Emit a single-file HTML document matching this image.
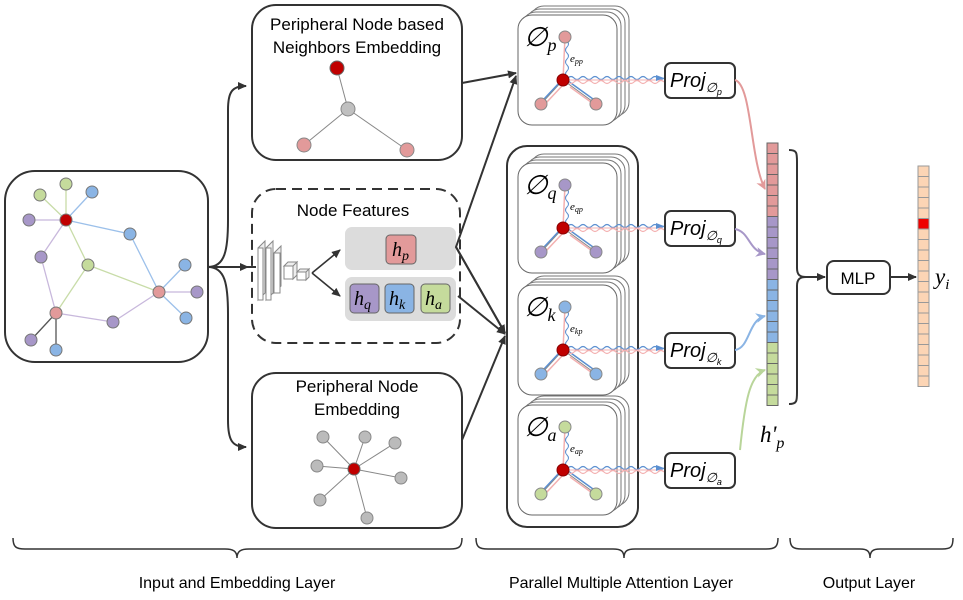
<!DOCTYPE html>
<html><head><meta charset="utf-8"><style>
html,body{margin:0;padding:0;background:#fff}
svg{display:block}
text{font-family:"Liberation Sans",sans-serif}
.m{font-family:"Liberation Serif",serif;font-style:italic}
</style></head><body>
<svg width="963" height="600" viewBox="0 0 963 600" xmlns="http://www.w3.org/2000/svg">
<defs>
<marker id="ar" markerWidth="10" markerHeight="10" refX="8" refY="5" orient="auto" markerUnits="userSpaceOnUse"><path d="M0,1 L9,5 L0,9 z" fill="#333"/></marker>
<marker id="arp" markerWidth="12" markerHeight="12" refX="9" refY="6" orient="auto" markerUnits="userSpaceOnUse"><path d="M0,1 L10,6 L0,11 L3,6z" fill="#e29a9a"/></marker>
<marker id="arv" markerWidth="12" markerHeight="12" refX="9" refY="6" orient="auto" markerUnits="userSpaceOnUse"><path d="M0,1 L10,6 L0,11 L3,6z" fill="#a797c8"/></marker>
<marker id="arb" markerWidth="12" markerHeight="12" refX="9" refY="6" orient="auto" markerUnits="userSpaceOnUse"><path d="M0,1 L10,6 L0,11 L3,6z" fill="#8ab4e4"/></marker>
<marker id="arg" markerWidth="12" markerHeight="12" refX="9" refY="6" orient="auto" markerUnits="userSpaceOnUse"><path d="M0,1 L10,6 L0,11 L3,6z" fill="#b9d59a"/></marker>
<g id="cards">
 <rect x="12" y="-9" width="99" height="110" rx="14" fill="#fff" stroke="#777"/>
 <rect x="8" y="-6" width="99" height="110" rx="14" fill="#fff" stroke="#777"/>
 <rect x="4" y="-3" width="99" height="110" rx="14" fill="#fff" stroke="#777"/>
 <rect x="0" y="0" width="99" height="110" rx="14" fill="#fff" stroke="#666"/>
</g>
<g id="cell">
 <line x1="47" y1="22" x2="45" y2="65" stroke="#f3b0b0" stroke-width="1.5"/>
 <path d="M49,26 q3,3 0,6 t0,6 t0,6 t0,6 t0,6 t0,6" fill="none" stroke="#5b8fd0" stroke-width="1"/>
 <line x1="23" y1="89" x2="45" y2="65" stroke="#888" stroke-width="1"/>
 <line x1="78" y1="89" x2="45" y2="65" stroke="#888" stroke-width="1"/>
 <path d="M26,84 l16,-17" stroke="#5b8fd0" stroke-width="1.5"/>
 <path d="M28,88 l16,-17" stroke="#f3b0b0" stroke-width="1.5"/>
 <path d="M75,84 l-25,-18" stroke="#5b8fd0" stroke-width="1.5"/>
 <path d="M77,90 l-25,-18" stroke="#f3b0b0" stroke-width="1.5"/>
 <path d="M50,63 q3,-3 6,0 t6,0 t6,0 t6,0 t6,0 t6,0 t6,0 t6,0 t6,0 t6,0 t6,0 t6,0 t6,0 t6,0 t6,0 t6,0" fill="none" stroke="#5b8fd0" stroke-width="1.2"/>
 <path d="M50,67 q3,3 6,0 t6,0 t6,0 t6,0 t6,0 t6,0 t6,0 t6,0 t6,0 t6,0 t6,0 t6,0 t6,0 t6,0 t6,0 t6,0" fill="none" stroke="#f3b0b0" stroke-width="1.2"/>
 <line x1="50" y1="65" x2="144" y2="65" stroke="#f3b0b0" stroke-width="1"/>
 <path d="M138,60 l8,3 l-8,3z" fill="#5b8fd0"/>
 <circle cx="47" cy="22" r="6" fill="currentColor" stroke="#888"/>
 <circle cx="23" cy="89" r="6" fill="currentColor" stroke="#888"/>
 <circle cx="78" cy="89" r="6" fill="currentColor" stroke="#888"/>
 <circle cx="45" cy="65" r="6" fill="#c00000" stroke="#800"/>
</g>
</defs>

<rect x="5" y="171" width="203" height="191" rx="30" fill="#fff" stroke="#333" stroke-width="2"/>
<g stroke-width="1.3">
<line x1="66" y1="220" x2="40" y2="195" stroke="#c8dca8"/>
<line x1="66" y1="220" x2="66" y2="184" stroke="#c8dca8"/>
<line x1="66" y1="220" x2="92" y2="192" stroke="#9cc0ea"/>
<line x1="66" y1="220" x2="29" y2="220" stroke="#c8b8dc"/>
<line x1="66" y1="220" x2="41" y2="257" stroke="#c8b8dc"/>
<line x1="66" y1="220" x2="88" y2="265" stroke="#c8dca8"/>
<line x1="66" y1="220" x2="130" y2="234" stroke="#9cc0ea"/>
<line x1="130" y1="234" x2="159" y2="292" stroke="#9cc0ea"/>
<line x1="88" y1="265" x2="159" y2="292" stroke="#c8dca8"/>
<line x1="88" y1="265" x2="56" y2="313" stroke="#c8dca8"/>
<line x1="41" y1="257" x2="56" y2="313" stroke="#c8b8dc"/>
<line x1="159" y1="292" x2="185" y2="265" stroke="#9cc0ea"/>
<line x1="159" y1="292" x2="197" y2="292" stroke="#c8b8dc"/>
<line x1="159" y1="292" x2="186" y2="318" stroke="#9cc0ea"/>
<line x1="159" y1="292" x2="113" y2="322" stroke="#c8b8dc"/>
<line x1="56" y1="313" x2="113" y2="322" stroke="#c8b8dc"/>
<line x1="56" y1="313" x2="31" y2="340" stroke="#555"/>
<line x1="56" y1="313" x2="56" y2="350" stroke="#555"/>
</g>
<g stroke="#777" stroke-width="1">
<circle cx="40" cy="195" r="6" fill="#c5db9c"/><circle cx="66" cy="184" r="6" fill="#c5db9c"/>
<circle cx="92" cy="192" r="6" fill="#8ab4e4"/><circle cx="29" cy="220" r="6" fill="#a797c8"/>
<circle cx="41" cy="257" r="6" fill="#a797c8"/><circle cx="88" cy="265" r="6" fill="#c5db9c"/>
<circle cx="130" cy="234" r="6" fill="#8ab4e4"/><circle cx="159" cy="292" r="6" fill="#e29a9a"/>
<circle cx="185" cy="265" r="6" fill="#8ab4e4"/><circle cx="197" cy="292" r="6" fill="#a797c8"/>
<circle cx="186" cy="318" r="6" fill="#8ab4e4"/><circle cx="56" cy="313" r="6" fill="#e29a9a"/>
<circle cx="113" cy="322" r="6" fill="#a797c8"/><circle cx="31" cy="340" r="6" fill="#a797c8"/>
<circle cx="56" cy="350" r="6" fill="#8ab4e4"/><circle cx="66" cy="220" r="6" fill="#c00000"/>
</g>

<g fill="none" stroke="#333" stroke-width="2">
<path d="M208,267 C225,267 228,250 228,220 L228,110 C228,92 232,86 246,86" marker-end="url(#ar)"/>
<path d="M208,267 L248,267" marker-end="url(#ar)"/>
<path d="M208,267 C225,267 228,284 228,314 L228,420 C228,440 232,447 246,447" marker-end="url(#ar)"/>
</g>

<rect x="252" y="5" width="210" height="155" rx="24" fill="#fff" stroke="#333" stroke-width="2"/>
<text x="357" y="30" font-size="17" text-anchor="middle">Peripheral Node based</text>
<text x="357" y="53" font-size="17" text-anchor="middle">Neighbors Embedding</text>
<line x1="337" y1="68" x2="348" y2="109" stroke="#888"/>
<line x1="348" y1="109" x2="304" y2="145" stroke="#888"/>
<line x1="348" y1="109" x2="407" y2="150" stroke="#888"/>
<circle cx="337" cy="68" r="7" fill="#c00000" stroke="#666"/>
<circle cx="348" cy="109" r="7" fill="#c0c0c0" stroke="#888"/>
<circle cx="304" cy="145" r="7" fill="#e29a9a" stroke="#888"/>
<circle cx="407" cy="150" r="7" fill="#e29a9a" stroke="#888"/>

<rect x="252" y="189" width="208" height="154" rx="24" fill="#fff" stroke="#333" stroke-width="2" stroke-dasharray="10,6"/>
<text x="353" y="216" font-size="17" text-anchor="middle">Node Features</text>
<rect x="345" y="227" width="111" height="43" rx="7" fill="#dcdcdc"/>
<rect x="345" y="277" width="111" height="44" rx="7" fill="#dcdcdc"/>
<rect x="386" y="235" width="30" height="29" rx="4" fill="#e29a9a" stroke="#666"/>
<rect x="350" y="284" width="29" height="29" rx="4" fill="#a797c8" stroke="#666"/>
<rect x="385" y="284" width="29" height="29" rx="4" fill="#8ab4e4" stroke="#666"/>
<rect x="421" y="284" width="29" height="29" rx="4" fill="#c5db9c" stroke="#666"/>
<text x="392" y="256" font-size="20" class="m">h<tspan font-size="14" dy="4">p</tspan></text>
<text x="354" y="305" font-size="20" class="m">h<tspan font-size="14" dy="4">q</tspan></text>
<text x="389" y="305" font-size="20" class="m">h<tspan font-size="14" dy="4">k</tspan></text>
<text x="425" y="305" font-size="20" class="m">h<tspan font-size="14" dy="4">a</tspan></text>
<g fill="#fff" stroke="#888">
<path d="M258,248 l7,-7 v52 l-7,7z" fill="#eee"/><rect x="258" y="248" width="5" height="52"/>
<path d="M266,248 l7,-7 v52 l-7,7z" fill="#eee"/><rect x="266" y="248" width="5" height="52"/>
<path d="M274,253 l7,-7 v40 l-7,7z" fill="#eee"/><rect x="274" y="253" width="6" height="40"/>
<rect x="284" y="266" width="9" height="13"/><path d="M284,266 l4,-4 h9 l-4,4z M293,266 l4,-4 v13 l-4,4z" fill="#eee"/>
<rect x="297" y="272" width="9" height="8"/><path d="M297,272 l3,-3 h9 l-3,3z M306,272 l3,-3 v8 l-3,3z" fill="#eee"/>
</g>
<line x1="248" y1="267" x2="256" y2="267" stroke="#333" stroke-width="2"/>
<g stroke="#333" stroke-width="1.6" fill="none">
<line x1="312" y1="273" x2="340" y2="250" marker-end="url(#ar)"/>
<line x1="312" y1="273" x2="340" y2="296" marker-end="url(#ar)"/>
</g>

<rect x="252" y="373" width="210" height="155" rx="24" fill="#fff" stroke="#333" stroke-width="2"/>
<text x="357" y="392" font-size="17" text-anchor="middle">Peripheral Node</text>
<text x="357" y="415" font-size="17" text-anchor="middle">Embedding</text>
<g stroke="#888">
<line x1="354" y1="469" x2="323" y2="437"/><line x1="354" y1="469" x2="365" y2="437"/>
<line x1="354" y1="469" x2="395" y2="443"/><line x1="354" y1="469" x2="317" y2="466"/>
<line x1="354" y1="469" x2="401" y2="478"/><line x1="354" y1="469" x2="320" y2="500"/>
<line x1="354" y1="469" x2="367" y2="518"/>
</g>
<g fill="#bbb" stroke="#888">
<circle cx="323" cy="437" r="6"/><circle cx="365" cy="437" r="6"/><circle cx="395" cy="443" r="6"/>
<circle cx="317" cy="466" r="6"/><circle cx="401" cy="478" r="6"/><circle cx="320" cy="500" r="6"/>
<circle cx="367" cy="518" r="6"/>
</g>
<circle cx="354" cy="469" r="6" fill="#c00000" stroke="#666"/>

<g stroke="#333" stroke-width="2" fill="none">
<line x1="462" y1="83" x2="516" y2="73" marker-end="url(#ar)"/>
<polyline points="505,333 456,247 516,76" marker-end="url(#ar)"/>
<polyline points="456,247 505,333" marker-end="url(#ar)"/>
<line x1="458" y1="296" x2="505" y2="334" marker-end="url(#ar)"/>
<line x1="462" y1="440" x2="505" y2="336" marker-end="url(#ar)"/>
</g>

<rect x="507" y="146" width="131" height="381" rx="20" fill="#fff" stroke="#333" stroke-width="2"/>
<g transform="translate(518,15)"><use href="#cards"/><use href="#cell" style="color:#e29a9a"/><text x="6" y="31" font-size="27" class="m">∅<tspan font-size="18" dy="5">p</tspan></text><text x="52" y="47" font-size="11" class="m">e<tspan font-size="8" dy="2">pp</tspan></text></g>
<g transform="translate(518,163)"><use href="#cards"/><use href="#cell" style="color:#a797c8"/><text x="6" y="31" font-size="27" class="m">∅<tspan font-size="18" dy="5">q</tspan></text><text x="52" y="47" font-size="11" class="m">e<tspan font-size="8" dy="2">qp</tspan></text></g>
<g transform="translate(518,285)"><use href="#cards"/><use href="#cell" style="color:#8ab4e4"/><text x="6" y="31" font-size="27" class="m">∅<tspan font-size="18" dy="5">k</tspan></text><text x="52" y="47" font-size="11" class="m">e<tspan font-size="8" dy="2">kp</tspan></text></g>
<g transform="translate(518,405)"><use href="#cards"/><use href="#cell" style="color:#c5db9c"/><text x="6" y="31" font-size="27" class="m">∅<tspan font-size="18" dy="5">a</tspan></text><text x="52" y="47" font-size="11" class="m">e<tspan font-size="8" dy="2">ap</tspan></text></g>

<g fill="#fff" stroke="#333" stroke-width="2">
<rect x="665" y="63" width="70" height="35" rx="6"/>
<rect x="665" y="211" width="70" height="35" rx="6"/>
<rect x="665" y="333" width="70" height="35" rx="6"/>
<rect x="665" y="453" width="70" height="35" rx="6"/>
</g>
<g font-size="20" class="m">
<text x="670" y="87">Proj<tspan font-size="13" dy="5">∅</tspan><tspan font-size="9" dy="3">p</tspan></text>
<text x="670" y="235">Proj<tspan font-size="13" dy="5">∅</tspan><tspan font-size="9" dy="3">q</tspan></text>
<text x="670" y="357">Proj<tspan font-size="13" dy="5">∅</tspan><tspan font-size="9" dy="3">k</tspan></text>
<text x="670" y="477">Proj<tspan font-size="13" dy="5">∅</tspan><tspan font-size="9" dy="3">a</tspan></text>
</g>
<g fill="none" stroke-width="2">
<path d="M735,80 C752,85 750,160 765,189" stroke="#e29a9a" marker-end="url(#arp)"/>
<path d="M735,229 C750,232 748,250 765,254" stroke="#a797c8" marker-end="url(#arv)"/>
<path d="M735,350 C750,348 748,320 765,316" stroke="#8ab4e4" marker-end="url(#arb)"/>
<path d="M740,450 C745,400 750,375 765,370" stroke="#b9d59a" marker-end="url(#arg)"/>
</g>

<g stroke="#666" stroke-width="1">
<g fill="#e29a9a">
<rect x="767" y="143" width="11" height="10.5"/><rect x="767" y="153.5" width="11" height="10.5"/><rect x="767" y="164" width="11" height="10.5"/><rect x="767" y="174.5" width="11" height="10.5"/><rect x="767" y="185" width="11" height="10.5"/><rect x="767" y="195.5" width="11" height="10.5"/><rect x="767" y="206" width="11" height="10.5"/></g>
<g fill="#a797c8">
<rect x="767" y="216.5" width="11" height="10.5"/><rect x="767" y="227" width="11" height="10.5"/><rect x="767" y="237.5" width="11" height="10.5"/><rect x="767" y="248" width="11" height="10.5"/><rect x="767" y="258.5" width="11" height="10.5"/><rect x="767" y="269" width="11" height="10.5"/></g>
<g fill="#8ab4e4">
<rect x="767" y="279.5" width="11" height="10.5"/><rect x="767" y="290" width="11" height="10.5"/><rect x="767" y="300.5" width="11" height="10.5"/><rect x="767" y="311" width="11" height="10.5"/><rect x="767" y="321.5" width="11" height="10.5"/><rect x="767" y="332" width="11" height="10.5"/></g>
<g fill="#c5db9c">
<rect x="767" y="342.5" width="11" height="10.5"/><rect x="767" y="353" width="11" height="10.5"/><rect x="767" y="363.5" width="11" height="10.5"/><rect x="767" y="374" width="11" height="10.5"/><rect x="767" y="384.5" width="11" height="10.5"/><rect x="767" y="395" width="11" height="10.5"/></g>
</g>
<text x="760" y="442" font-size="23" class="m">h'<tspan font-size="16" dy="6">p</tspan></text>

<path d="M789,150 C797,150 797,153 797,162 L797,268 C797,275 800,277 806,277 C800,277 797,279 797,286 L797,392 C797,401 797,404 789,404" fill="none" stroke="#333" stroke-width="2"/>
<line x1="806" y1="277" x2="825" y2="277" stroke="#333" stroke-width="2" marker-end="url(#ar)"/>
<rect x="827" y="261" width="63" height="33" rx="7" fill="#fff" stroke="#333" stroke-width="2"/>
<text x="858" y="284" font-size="17" text-anchor="middle">MLP</text>
<line x1="890" y1="277" x2="916" y2="277" stroke="#333" stroke-width="2" marker-end="url(#ar)"/>

<g fill="#fcd5b5" stroke="#999" stroke-width="1">
<rect x="918" y="166" width="11" height="10.5"/><rect x="918" y="176.5" width="11" height="10.5"/><rect x="918" y="187" width="11" height="10.5"/><rect x="918" y="197.5" width="11" height="10.5"/><rect x="918" y="208" width="11" height="10.5"/><rect x="918" y="218.5" width="11" height="10.5" fill="#ee0000"/><rect x="918" y="229" width="11" height="10.5"/><rect x="918" y="239.5" width="11" height="10.5"/><rect x="918" y="250" width="11" height="10.5"/><rect x="918" y="260.5" width="11" height="10.5"/><rect x="918" y="271" width="11" height="10.5"/><rect x="918" y="281.5" width="11" height="10.5"/><rect x="918" y="292" width="11" height="10.5"/><rect x="918" y="302.5" width="11" height="10.5"/><rect x="918" y="313" width="11" height="10.5"/><rect x="918" y="323.5" width="11" height="10.5"/><rect x="918" y="334" width="11" height="10.5"/><rect x="918" y="344.5" width="11" height="10.5"/><rect x="918" y="355" width="11" height="10.5"/><rect x="918" y="365.5" width="11" height="10.5"/><rect x="918" y="376" width="11" height="10.5"/>
</g>
<text x="935" y="284" font-size="23" class="m">y<tspan font-size="15" dy="5">i</tspan></text>

<g fill="none" stroke="#333" stroke-width="1.5">
<path d="M13,538 C13,547 16,549 25,549 L225,549 C233,549 237,551 237,558 C237,551 241,549 249,549 L450,549 C459,549 462,547 462,538"/>
<path d="M476,538 C476,547 479,549 488,549 L613,549 C621,549 624,551 624,558 C624,551 627,549 635,549 L766,549 C775,549 778,547 778,538"/>
<path d="M790,538 C790,547 793,549 802,549 L860,549 C867,549 870,551 870,558 C870,551 873,549 880,549 L942,549 C951,549 953,547 953,538"/>
</g>
<text x="237" y="588" font-size="16" text-anchor="middle">Input and Embedding Layer</text>
<text x="621" y="588" font-size="16" text-anchor="middle">Parallel Multiple Attention Layer</text>
<text x="869" y="588" font-size="16" text-anchor="middle">Output Layer</text>
</svg>
</body></html>
